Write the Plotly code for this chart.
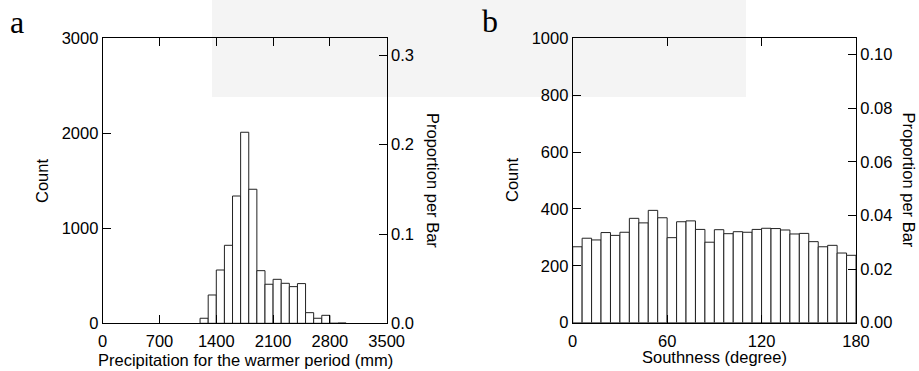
import plotly.graph_objects as go

# ---------------- data ----------------
# Panel a: precipitation for the warmer period (mm), bins of 100 mm
precip_bin_start = [1200, 1300, 1400, 1500, 1600, 1700, 1800, 1900, 2000,
                    2100, 2200, 2300, 2400, 2500, 2600, 2700, 2800, 2900]
precip_bin_width = 100
precip_counts = [53, 298, 561, 821, 1340, 2011, 1411, 554, 411,
                 463, 421, 386, 418, 112, 53, 84, 0, 3]
precip_xticks = [0, 700, 1400, 2100, 2800, 3500]
count_a_ticks = [0, 1000, 2000, 3000]
prop_a_ticks = [0.0, 0.1, 0.2, 0.3]
prop_a_text = ["0.0", "0.1", "0.2", "0.3"]

# Panel b: southness (degree), bins of 6 degrees
south_bin_start = [0, 6, 12, 18, 24, 30, 36, 42, 48, 54, 60, 66, 72, 78, 84,
                   90, 96, 102, 108, 114, 120, 126, 132, 138, 144, 150, 156,
                   162, 168, 174]
south_bin_width = 6
south_counts = [267, 297, 291, 317, 307, 318, 367, 351, 395, 369, 299, 355,
                358, 328, 283, 327, 313, 320, 318, 328, 332, 331, 326, 312,
                314, 285, 267, 272, 245, 237]
south_xticks = [0, 60, 120, 180]
count_b_ticks = [0, 200, 400, 600, 800, 1000]
prop_b_ticks = [0.00, 0.02, 0.04, 0.06, 0.08, 0.10]
prop_b_text = ["0.00", "0.02", "0.04", "0.06", "0.08", "0.10"]

# ---------------- figure ----------------
W, H = 919, 371
FONT = "Liberation Sans, Arial, sans-serif"
FS = 16.5
n_a = sum(precip_counts)
n_b = sum(south_counts)

def px(x):
    return x / W

def py(y):
    return 1 - y / H

bar_style = dict(color="white", line=dict(color="#222222", width=1))

fig = go.Figure()
fig.add_trace(go.Bar(x=precip_bin_start, y=precip_counts,
                     width=[precip_bin_width] * len(precip_counts), offset=0,
                     marker=bar_style, xaxis="x", yaxis="y",
                     showlegend=False, hoverinfo="skip"))
fig.add_trace(go.Scatter(x=[None], y=[None], xaxis="x", yaxis="y2",
                         showlegend=False, hoverinfo="skip"))
fig.add_trace(go.Bar(x=south_bin_start, y=south_counts,
                     width=[south_bin_width] * len(south_counts), offset=0,
                     marker=bar_style, xaxis="x2", yaxis="y3",
                     showlegend=False, hoverinfo="skip"))
fig.add_trace(go.Scatter(x=[None], y=[None], xaxis="x2", yaxis="y4",
                         showlegend=False, hoverinfo="skip"))

common = dict(showgrid=False, zeroline=False, showline=True, linecolor="black",
              linewidth=1, ticks="inside", ticklen=8, tickcolor="black",
              tickwidth=1, tickfont=dict(family=FONT, size=FS, color="black"),
              automargin=False)

ya_dom = [py(323.3), py(38.3)]
yb_dom = [py(322.7), py(38.3)]

fig.update_layout(
    width=W, height=H,
    margin=dict(l=0, r=0, t=0, b=0, pad=0, autoexpand=False),
    paper_bgcolor="white", plot_bgcolor="rgba(0,0,0,0)",
    barmode="overlay",
    xaxis=dict(domain=[px(102.7), px(386.7)], range=[0, 3500],
               tickvals=precip_xticks, anchor="y", mirror="ticks",
               ticklabelstandoff=3, **common),
    yaxis=dict(domain=ya_dom, range=[0, 3000], tickvals=count_a_ticks,
               anchor="x", **common),
    yaxis2=dict(range=[0, 3000 / n_a], tickvals=prop_a_ticks,
                ticktext=prop_a_text, overlaying="y", side="right",
                anchor="x", **common),
    xaxis2=dict(domain=[px(572.7), px(856)], range=[0, 180],
                tickvals=south_xticks, anchor="y3", mirror="ticks",
                ticklabelstandoff=3, **common),
    yaxis3=dict(domain=yb_dom, range=[0, 1000], tickvals=count_b_ticks,
                anchor="x2", **common),
    yaxis4=dict(range=[0, 1000 / n_b], tickvals=prop_b_ticks,
                ticktext=prop_b_text, overlaying="y3", side="right",
                anchor="x2", **common),
)

# light scanned watermark band at the top
fig.add_shape(type="rect", xref="paper", yref="paper",
              x0=px(212), x1=px(746), y0=py(97), y1=1,
              fillcolor="#f4f4f4", line=dict(width=0), layer="below")

def ann(text, x, y, angle=0, size=FS, family=FONT):
    fig.add_annotation(text=text, x=px(x), y=py(y), xref="paper", yref="paper",
                       showarrow=False, textangle=angle, xanchor="center",
                       yanchor="middle",
                       font=dict(family=family, size=size, color="black"))

ann("Count", 42, 181, -90)
ann("Proportion per Bar", 433, 180, 90)
ann("Precipitation for the warmer period (mm)", 245, 360)
ann("Count", 512, 180, -90)
ann("Proportion per Bar", 908.5, 180, 90)
ann("Southness (degree)", 714, 357)
ann("a", 17, 22, 0, 32, "Liberation Serif, Times New Roman, serif")
ann("b", 490, 21, 0, 32, "Liberation Serif, Times New Roman, serif")

fig.write_html("out.html")
